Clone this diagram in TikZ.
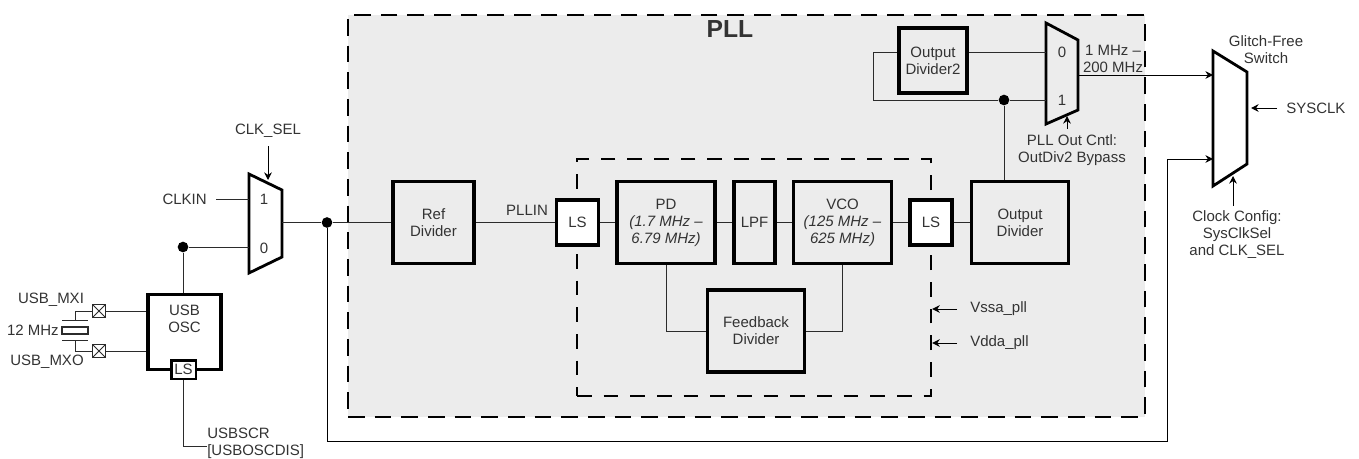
\documentclass[tikz,border=0pt]{standalone}
\usepackage{fontspec}
\setmainfont{Liberation Sans}
\usepackage{xcolor}
\definecolor{cLine}{HTML}{2B2B2B}
\definecolor{cText}{HTML}{333333}
\definecolor{cRegion}{HTML}{ECECEC}
\usetikzlibrary{arrows.meta}
\tikzset{
  node-box/.style={draw=black,line width=2.7pt,align=center,text=cText,
    minimum height=61.5pt,minimum width=72.5pt,inner sep=0pt},
  node-ls/.style={node-box,fill=white,minimum width=31.5pt,minimum height=34pt},
  node-label/.style={align=center,text=cText,inner sep=0pt},
  node-dot/.style={circle,fill=black,draw=none,minimum size=8pt,inner sep=0pt},
  node-pin/.style={draw=cLine,line width=.8pt,minimum size=9.75pt,inner sep=0pt,
    path picture={\draw[cLine,line width=.7pt]
      (path picture bounding box.north west) -- (path picture bounding box.south east)
      (path picture bounding box.north east) -- (path picture bounding box.south west);}},
  region/.style={dashed,draw=black,inner sep=0pt},
  mux/.style={draw=black,line width=2.1pt,line join=miter},
  wire/.style={line width=.75pt,draw=cLine},
  arrow/.style={-{Stealth[length=2mm,width=2mm]},line width=.75pt,draw=black},
}

\begin{document}
\begin{tikzpicture}[x=.75pt,y=-.75pt,font=\fontsize{11.25}{12.75}\selectfont]
  \useasboundingbox (0,0) rectangle (1359,458);
  % dashed regions
  \node[region,fill=cRegion,line width=2.2pt,dash pattern=on 12.5pt off 7.5pt,
    minimum width=597.75pt,minimum height=301.5pt] (pll) at (746.5,216) {};
  \node[region,line width=1.8pt,dash pattern=on 11pt off 9pt,
    minimum width=265.5pt,minimum height=177.75pt] (core) at (754,277.5) {};
  \node[node-label,font=\fontsize{18.5}{20}\selectfont\bfseries] (title) at (730,29) {PLL};

  % main chain
  \node[node-box,minimum width=61pt]      (refdiv) at (433.5,222.5) {Ref\\Divider};
  \node[node-ls]                          (lsa)    at (577.5,222.5) {LS};
  \node[node-box,minimum width=73.5pt]    (pd)     at (666,222.5)   {PD\\\textit{(1.7 MHz --}\\\textit{6.79 MHz)}};
  \node[node-box,minimum width=31pt]      (lpf)    at (754.5,222.5) {LPF};
  \node[node-box,minimum width=73.5pt]    (vco)    at (842.5,222.5) {VCO\\\textit{(125 MHz --}\\\textit{625 MHz)}};
  \node[node-ls]                          (lsb)    at (931,222.5)   {LS};
  \node[node-box]                         (outdiv) at (1020,222.5)  {Output\\Divider};
  \node[node-box]                         (fbdiv)  at (756,331)     {Feedback\\Divider};
  \node[node-box,minimum width=51pt,minimum height=49pt] (outdivb) at (933,60.5) {Output\\Divider2};

  % input mux
  \draw[mux] (249,174) -- (282,190) -- (282,257) -- (249,273) -- cycle;
  \coordinate (muxa-one)  at (249,199);
  \coordinate (muxa-zero) at (249,247);
  \coordinate (muxa-sel)  at (268,180);
  \coordinate (muxa-out)  at (282,222.5);
  \coordinate (clkin-end) at (216,199);
  \node[node-label] (muxa-lone)  at (264,199) {1};
  \node[node-label] (muxa-lzero) at (264,248) {0};

  % output mux
  \draw[mux] (1046,23) -- (1078,40) -- (1078,110) -- (1046,124) -- cycle;
  \coordinate (muxb-zero) at (1046,52);
  \coordinate (muxb-one)  at (1046,100);
  \coordinate (muxb-out)  at (1078,75);
  \coordinate (muxb-sel)  at (1067,116);
  \node[node-label] (muxb-lzero) at (1062,52)  {0};
  \node[node-label] (muxb-lone)  at (1062,100) {1};

  % glitch-free switch
  \draw[mux] (1213,51) -- (1247,72) -- (1247,164) -- (1213,186) -- cycle;
  \coordinate (sw-a)   at (1213,75);
  \coordinate (sw-b)   at (1213,159);
  \coordinate (sw-sel) at (1233,176);
  \coordinate (sw-clk) at (1251,108);

  % usb oscillator
  \node[node-box,minimum width=55pt,minimum height=56pt,fill=white] (usbosc) at (184.5,332) {USB\\OSC\\[7pt]\mbox{}};
  \node[node-box,minimum width=18.5pt,minimum height=14pt,fill=white,line width=2pt] (lsc) at (183.5,369.5) {LS};
  \node[node-pin] (mxi) at (99,311) {};
  \node[node-pin] (mxo) at (99,351) {};
  \node[draw=cLine,line width=.8pt,minimum width=19.5pt,minimum height=5.25pt,inner sep=0pt] (xtal) at (75,330.5) {};
  \coordinate (xtal-tl) at (62,320);
  \coordinate (xtal-tr) at (88,320);
  \coordinate (xtal-bl) at (62,340);
  \coordinate (xtal-br) at (88,340);
  \coordinate (xtal-t)  at (75,320);
  \coordinate (xtal-b)  at (75,340);
  \draw[wire] (xtal-tl) -- (xtal-tr);
  \draw[wire] (xtal-bl) -- (xtal-br);
  \draw[wire] (xtal-t) |- (mxi);
  \draw[wire] (xtal-b) |- (mxo);
  \draw[wire] (mxi) -- (mxi -| usbosc.west);
  \draw[wire] (mxo) -- (mxo -| usbosc.west);

  % labels
  \node[node-label] (lmxi)   at (51,300)   {USB\_MXI};
  \node[node-label] (lmxo)   at (47,362)   {USB\_MXO};
  \node[node-label,anchor=east] (lxtal)  at (59,330)  {12 MHz};
  \node[node-label,anchor=west,align=left] (lscr) at (207,443.5) {USBSCR\\{[}USBOSCDIS{]}};
  \node[node-label,anchor=east] (lclkin) at (207,199) {CLKIN};
  \node[node-label] (lclksel) at (268,131)  {CLK\_SEL};
  \node[node-label] (lpllin)  at (527,210)  {PLLIN};
  \node[node-label,anchor=west] (lvssa) at (970,309) {Vssa\_pll};
  \node[node-label,anchor=west] (lvdda) at (970,343) {Vdda\_pll};
  \node[node-label] (lrange)  at (1113,59)  {1 MHz --\\200 MHz};
  \node[node-label] (loutc)   at (1072,150) {PLL Out Cntl:\\OutDiv2 Bypass};
  \node[node-label] (lglitch) at (1266,50)  {Glitch-Free\\Switch};
  \node[node-label,anchor=west] (lsysclk) at (1286,108) {SYSCLK};
  \node[node-label] (lcfg)    at (1237,235) {Clock Config:\\SysClkSel\\and CLK\_SEL};

  % junctions
  \node[node-dot] (dota) at (183,247)  {};
  \node[node-dot] (dotb) at (327,222.5) {};
  \node[node-dot] (dotc) at (1004,100) {};

  % wires
  \draw[wire] (dota) -- (muxa-zero);
  \draw[wire] (dota) -- (dota |- usbosc.north);
  \draw[wire] (clkin-end) -- (muxa-one);
  \draw[wire] (muxa-out) -- (dotb) -- (refdiv);
  \draw[wire] (refdiv) -- (lsa);
  \draw[wire] (lsa) -- (pd);
  \draw[wire] (pd) -- (lpf);
  \draw[wire] (lpf) -- (vco);
  \draw[wire] (vco) -- (lsb);
  \draw[wire] (lsb) -- (outdiv);
  \draw[wire] (pd) |- (fbdiv);
  \draw[wire] (vco) |- (fbdiv);
  \draw[wire] (outdiv.north -| dotc) -- (dotc);
  \draw[wire] (dotc) -- (muxb-one);
  \draw[wire] (muxb-zero -| outdivb.east) -- (muxb-zero);
  \draw[wire] (muxb-zero -| outdivb.west) -- (873,52) -- (873,100) -- (dotc);
  \draw[wire] (lsc.south) |- (lscr.west |- 0,446);

  % arrows
  \draw[arrow] (muxb-out) -- (sw-a);
  \draw[arrow] (dotb) |- (1167,441) |- (sw-b);
  \draw[arrow] (268,146) -- (muxa-sel);
  \draw[arrow] (1067,129) -- (muxb-sel);
  \draw[arrow] (1233,206) -- (sw-sel);
  \draw[arrow] (lsysclk.west -| 1277,0) -- (sw-clk);
  \draw[arrow] (lvssa.west -| 957,0) -- (lvssa.west -| core.east);
  \draw[arrow] (lvdda.west -| 957,0) -- (lvdda.west -| core.east);
\end{tikzpicture}
\end{document}
